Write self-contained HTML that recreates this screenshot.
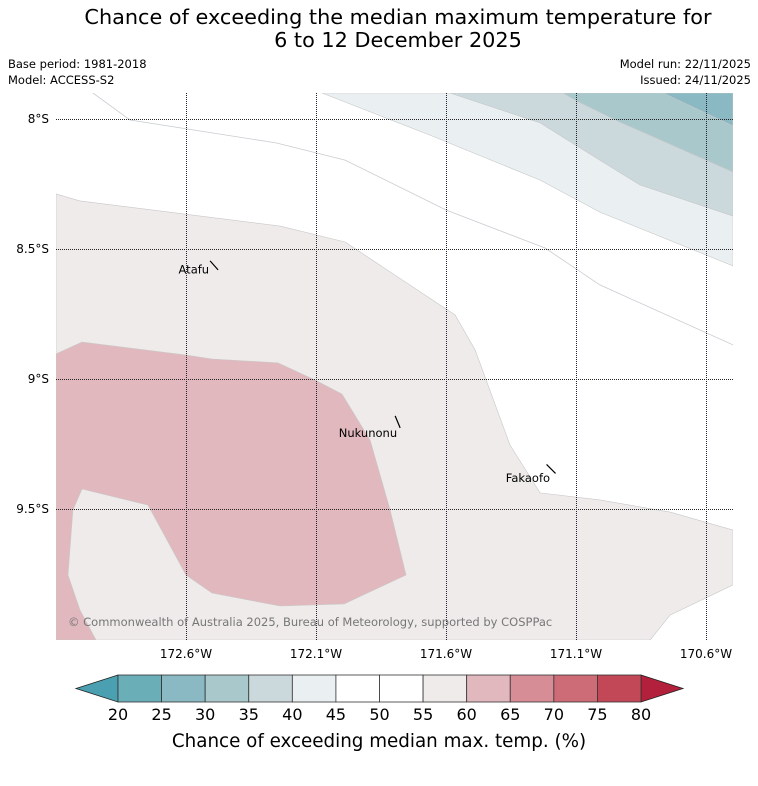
<!DOCTYPE html>
<html><head><meta charset="utf-8">
<style>
body{margin:0;background:#fff;width:758px;height:781px;overflow:hidden;font-family:"Liberation Sans","DejaVu Sans",sans-serif;}
svg text{font-family:"DejaVu Sans","Liberation Sans",sans-serif;}
</style></head>
<body>
<svg id="chart" width="758" height="781" viewBox="0 0 758 781" xmlns="http://www.w3.org/2000/svg">
<text x="398" y="24" font-size="20.8" text-anchor="middle">Chance of exceeding the median maximum temperature for</text>
<text x="398" y="47" font-size="20.8" text-anchor="middle">6 to 12 December 2025</text>
<text x="8" y="68" font-size="11.5">Base period: 1981-2018</text>
<text x="8" y="84" font-size="11.5">Model: ACCESS-S2</text>
<text x="751" y="68" font-size="11.5" text-anchor="end">Model run: 22/11/2025</text>
<text x="751" y="84" font-size="11.5" text-anchor="end">Issued: 24/11/2025</text>
<defs><clipPath id="pc"><rect x="56" y="93" width="677" height="547"/></clipPath></defs>
<g id="map" clip-path="url(#pc)"></g>
<g id="grid"></g>
<g id="labels"></g>
<text x="68" y="626" font-size="11.5" fill="#777">© Commonwealth of Australia 2025, Bureau of Meteorology, supported by COSPPac</text>
<g id="cbar"></g>
<text x="379" y="747" font-size="18.3" text-anchor="middle">Chance of exceeding median max. temp. (%)</text>
</svg>
<script>
// ---- data ----
const lonTicks = [172.6, 172.1, 171.6, 171.1, 170.6];
const latTicks = [8.0, 8.5, 9.0, 9.5];
const cbLevels = [20,25,30,35,40,45,50,55,60,65,70,75,80];
const cbColors = ["#6aaeb8","#8ab8c3","#a9c8cc","#cbd8dc","#eaeff1","#ffffff","#ffffff","#eeebea","#e1b8bd","#d78d95","#cd6b76","#c24858"];
const cbUnder = "#4aa0b0";
const cbOver = "#b2203b";
// contour regions [lonW, latS]
const band55 = [[173.1,8.288],[173.008,8.315],[172.238,8.412],[171.988,8.473],[171.565,8.754],[171.488,8.888],[171.354,9.254],[171.238,9.438],[171.008,9.465],[170.738,9.512],[170.496,9.581],[170.496,9.792],[170.738,9.908],[170.815,10.004],[173.1,10.004]];
const band60 = [[173.1,8.904],[173.0,8.858],[172.6,8.908],[172.5,8.923],[172.246,8.938],[172.104,9.004],[172.0,9.058],[171.892,9.235],[171.815,9.504],[171.754,9.754],[171.992,9.865],[172.238,9.873],[172.5,9.823],[172.6,9.754],[172.746,9.485],[173.0,9.423],[173.035,9.504],[173.054,9.754],[173.008,9.888],[172.946,10.004],[173.1,10.004]];
const band40 = [[172.077,7.9],[171.662,8.062],[171.238,8.235],[171.008,8.358],[170.496,8.565],[170.496,7.9]];
const band35 = [[171.585,7.9],[171.238,8.015],[171.096,8.104],[170.854,8.254],[170.496,8.373],[170.496,7.9]];
const band30 = [[171.15,7.9],[171.096,7.931],[170.931,8.012],[170.496,8.204],[170.496,7.9]];
const band25 = [[170.765,7.9],[170.496,8.027],[170.496,7.9]];
const contourLine = [[172.958,7.9],[172.815,8.004],[172.254,8.092],[171.988,8.158],[171.6,8.35],[171.219,8.496],[171.008,8.638],[170.496,8.869]];
const islandNames = ["Atafu","Nukunonu","Fakaofo"];
const islandLon = [172.492, 171.786, 171.196];
const islandLat = [8.563, 9.165, 9.346];

// ---- axes ----
const X = lon => 186 + (172.6 - lon) * 260;
const Y = lat => 119 + (lat - 8) * 260;
const NS = "http://www.w3.org/2000/svg";
function mk(tag, parent, attrs){const e=document.createElementNS(NS,tag);for(const k in attrs)e.setAttribute(k,attrs[k]);parent.appendChild(e);return e;}
const pts = a => a.map(p => X(p[0]).toFixed(1)+","+Y(p[1]).toFixed(1)).join(" ");

const map = document.getElementById('map');
const regions = [[band55,"#eeebea","band-55-60"],[band60,"#e1b8bd","band-60-65"],[band40,"#eaeff1","band-40-45"],[band35,"#cbd8dc","band-35-40"],[band30,"#a9c8cc","band-30-35"],[band25,"#8ab8c3","band-25-30"]];
regions.forEach(r=>{
  const p = mk('polygon', map, {points: pts(r[0]), fill: r[1], stroke: "#c8c8c8", "stroke-width": 0.6});
  
  
});
const cl = mk('polyline', map, {points: pts(contourLine), fill: "none", stroke: "#c8cdd0", "stroke-width": 0.8});



const grid = document.getElementById('grid');
lonTicks.forEach(l=>{
  const x = Math.round(X(l))+0.5;
  const g = mk('line', grid, {x1:x,x2:x,y1:93,y2:640,stroke:"#223","stroke-width":1,"stroke-dasharray":"1,1"});
  
  
  const t = mk('text', grid, {x:X(l), y:658, "font-size":12, "text-anchor":"middle"});
  t.textContent = l.toFixed(1)+"°W";
  
  
});
latTicks.forEach(l=>{
  const y = Math.round(Y(l))+0.5;
  const g = mk('line', grid, {x1:56,x2:733,y1:y,y2:y,stroke:"#222","stroke-width":1,"stroke-dasharray":"1,1"});
  
  
  const t = mk('text', grid, {x:49, y:Y(l)+4, "font-size":12, "text-anchor":"end"});
  t.textContent = (l%1===0? l.toFixed(0): l.toFixed(1))+"°S";
  
  
});

const lab = document.getElementById('labels');
const labelDx = [-5, -0.5, -1];
const labelDy = [8, 15, 13];
const shapeDx = [4, 2.5, 4.5];
const shapeDy = [4.5, 6, 4.5];
islandNames.forEach((n,i)=>{
  const x = X(islandLon[i]), y = Y(islandLat[i]);
  const ln = mk('line', lab, {x1:x-shapeDx[i],y1:y-shapeDy[i],x2:x+shapeDx[i],y2:y+shapeDy[i],stroke:"#000","stroke-width":1.2});
  
  
  const t = mk('text', lab, {x:x+labelDx[i], y:y+labelDy[i], "font-size":11.5, "text-anchor":"end"});
  t.textContent = n;
  
  
});

// colorbar
const cb = document.getElementById('cbar');
const cx0 = 118, cx1 = 641, cy0 = 675, cy1 = 702;
const CX = v => cx0 + (v - cbLevels[0]) / (cbLevels[cbLevels.length-1]-cbLevels[0]) * (cx1-cx0);
const under = mk('polygon', cb, {points:`${cx0},${cy0} 76,${(cy0+cy1)/2} ${cx0},${cy1}`, fill:cbUnder, stroke:"#222","stroke-width":0.8});


const over = mk('polygon', cb, {points:`${cx1},${cy0} 683,${(cy0+cy1)/2} ${cx1},${cy1}`, fill:cbOver, stroke:"#222","stroke-width":0.8});


cbColors.forEach((c,i)=>{
  const r = mk('rect', cb, {x:CX(cbLevels[i]), y:cy0, width:CX(cbLevels[i+1])-CX(cbLevels[i]), height:cy1-cy0, fill:c, stroke:"#333","stroke-width":0.8});
  
  
});
cbLevels.forEach(v=>{
  const t = mk('text', cb, {x:CX(v), y:720, "font-size":16, "text-anchor":"middle"});
  t.textContent = v;
  
  
});
</script>
</body></html>
